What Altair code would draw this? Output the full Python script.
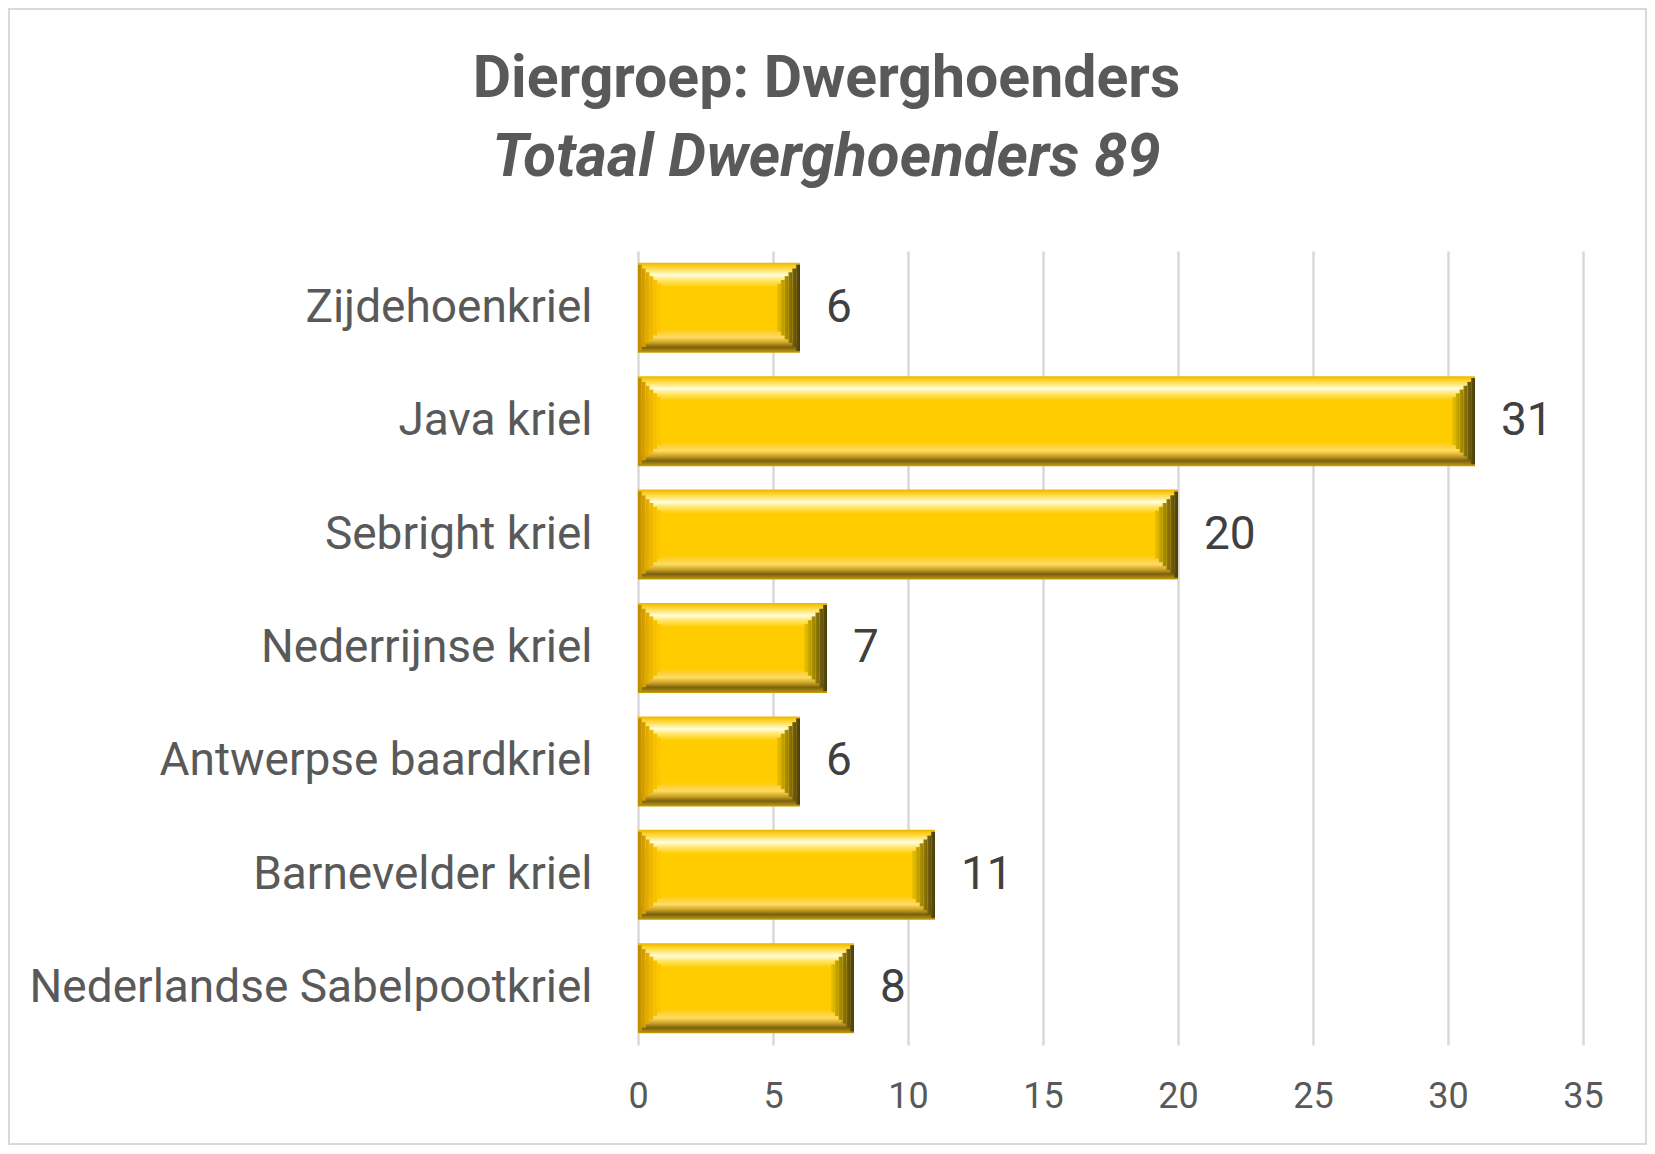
import altair as alt
import pandas as pd

categories = ["Zijdehoenkriel", "Java kriel", "Sebright kriel", "Nederrijnse kriel",
              "Antwerpse baardkriel", "Barnevelder kriel", "Nederlandse Sabelpootkriel"]
values = [6, 31, 20, 7, 6, 11, 8]
x_ticks = [0, 5, 10, 15, 20, 25, 30, 35]
title_text = "Diergroep: Dwerghoenders"
subtitle_text = "Totaal Dwerghoenders 89"

df = pd.DataFrame({"ras": categories, "aantal": values})

FONT = "Roboto"
GREY = "#595959"
BAR_H = 90
BEVEL = 23

y_enc = alt.Y("ras:N", sort=categories,
              scale=alt.Scale(paddingInner=0.2, paddingOuter=0.1),
              axis=alt.Axis(title=None, domain=False, ticks=False, labelPadding=46,
                            labelFontSize=46, labelColor=GREY, labelFont=FONT,
                            labelLimit=800))
x_enc = alt.X("aantal:Q", scale=alt.Scale(domain=[0, 35], nice=False),
              axis=alt.Axis(title=None, values=x_ticks, domain=False, ticks=False,
                            labelPadding=34, labelFontSize=36, labelColor=GREY,
                            labelFont=FONT, labelFlush=False,
                            gridColor="#D9D9D9", gridWidth=2.5))

base = alt.Chart(df)

face_gradient = alt.Gradient(
    gradient="linear", x1=0, x2=0, y1=0, y2=1,
    stops=[
        alt.GradientStop(color="#E8B400", offset=0),
        alt.GradientStop(color="#FFCF20", offset=0.04),
        alt.GradientStop(color="#FFEC88", offset=0.10),
        alt.GradientStop(color="#FFFDE0", offset=0.14),
        alt.GradientStop(color="#FFE970", offset=0.19),
        alt.GradientStop(color="#FFCC00", offset=0.27),
        alt.GradientStop(color="#FFCC00", offset=0.73),
        alt.GradientStop(color="#FFD030", offset=0.77),
        alt.GradientStop(color="#FFDB62", offset=0.83),
        alt.GradientStop(color="#C9A020", offset=0.89),
        alt.GradientStop(color="#7A6010", offset=0.94),
        alt.GradientStop(color="#A08010", offset=0.97),
        alt.GradientStop(color="#C9A000", offset=1),
    ])


def hgrad(c0, c1):
    return alt.Gradient(gradient="linear", x1=0, x2=1, y1=0, y2=0,
                        stops=[alt.GradientStop(color=c0, offset=0),
                               alt.GradientStop(color=c1, offset=1)])


layers = [base.mark_bar(size=BAR_H, color=face_gradient).encode(y=y_enc, x=x_enc)]

n_slices = 6
step = BEVEL / n_slices
left_cols = ["#B88800", "#CC9800", "#DCA600", "#E9B200", "#F4BC00", "#FBC400", "#FFCA00"]
right_cols = ["#4A3E0C", "#5F4F0C", "#79650A", "#957D04", "#B39600", "#D2AE00", "#F0C400"]
for k in range(n_slices):
    h = BAR_H - 2 * (k + 0.5) * step
    layers.append(
        base.mark_bar(size=h, color=hgrad(left_cols[k], left_cols[k + 1]),
                      xOffset=k * step, x2Offset=(k + 1) * step)
        .encode(y=alt.Y("ras:N", sort=categories), x=alt.datum(0), x2=alt.datum(0))
    )
    layers.append(
        base.mark_bar(size=h, color=hgrad(right_cols[k + 1], right_cols[k]),
                      xOffset=-(k + 1) * step, x2Offset=-k * step)
        .encode(y=alt.Y("ras:N", sort=categories), x="aantal:Q", x2="aantal:Q")
    )

labels = base.mark_text(align="left", baseline="middle", dx=26, fontSize=46,
                        color="#404040", font=FONT).encode(
    y=alt.Y("ras:N", sort=categories), x="aantal:Q", text="aantal:Q")
layers.append(labels)

border = alt.Chart(pd.DataFrame({"b": [1]})).mark_rect(
    fill=None, stroke="#D9D9D9", strokeWidth=2).encode(
    x=alt.value(-629), x2=alt.value(1008), y=alt.value(-242), y2=alt.value(893))
layers.append(border)

chart = alt.layer(*layers).properties(
    width=945, height=794,
    padding={"left": 630, "top": 243, "right": 64, "bottom": 101},
    autosize=alt.AutoSizeParams(type="none"),
    title=alt.TitleParams(
        text=title_text, subtitle=subtitle_text, anchor="middle", dx=-284, dy=180,
        font=FONT, fontSize=59, fontWeight="bold", color=GREY,
        subtitleFont=FONT, subtitleFontSize=60, subtitleFontStyle="italic",
        subtitleFontWeight="bold", subtitleColor=GREY, subtitlePadding=20, offset=0),
).configure(background="white", view=alt.ViewConfig(stroke=None))

chart.save("out.html", embed_options={"renderer": "svg", "actions": False})
